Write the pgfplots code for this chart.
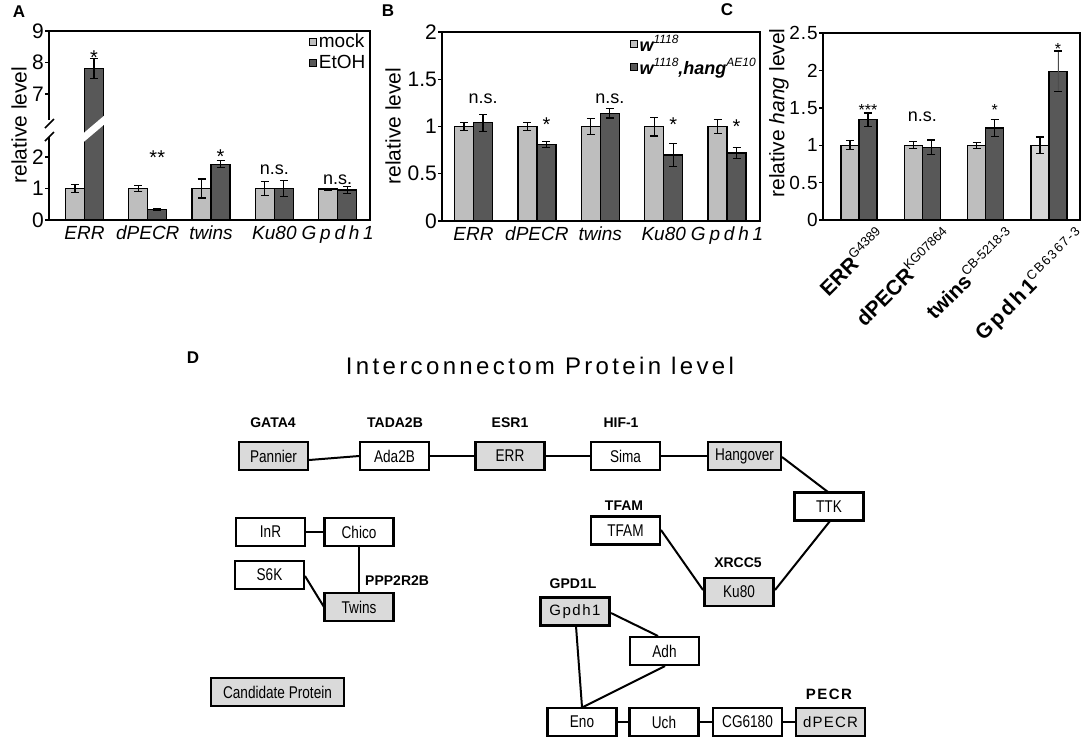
\documentclass[border=0pt]{standalone}
\usepackage{fontspec}
\setmainfont{Liberation Sans}
\newfontfamily\nar{Liberation Sans}[FakeStretch=0.8]
\usepackage{pgfplots}
\usepackage{pgfplotstable}
\pgfplotsset{compat=1.18}

\definecolor{lb}{RGB}{190,190,190}
\definecolor{db}{RGB}{88,88,88}
\definecolor{vlb}{RGB}{212,212,212}
\definecolor{bx}{RGB}{218,218,218}
\newcommand{\fs}[1]{\fontsize{#1}{#1}\selectfont}
\newcommand{\sups}[2][12]{\raisebox{0.42em}{\fs{#1}#2}}

% Panel A
\pgfplotstableread{
x y e
0 1.00 0.13
1 1.00 0.10
2 1.00 0.30
3 1.00 0.23
4 0.98 0.03
}\Amock
\pgfplotstableread{
x y e
0 7.80 0.32
1 0.33 0.02
2 1.77 0.11
3 1.00 0.25
4 0.95 0.10
}\Aetoh
% Panel B
\pgfplotstableread{
x y e
0 1.00 0.04
1 1.00 0.04
2 1.00 0.08
3 1.00 0.10
4 1.00 0.07
}\Bw
\pgfplotstableread{
x y e
0 1.04 0.09
1 0.81 0.03
2 1.14 0.05
3 0.70 0.12
4 0.72 0.06
}\Bhang
% Panel C
\pgfplotstableread{
x y e
0 1.00 0.06
1 1.00 0.05
2 1.00 0.04
}\Clight
\pgfplotstableread{
x y e
3 1.00 0.11
}\ClightG
\pgfplotstableread{
x y e
0 1.34 0.09
1 0.97 0.10
2 1.23 0.11
}\Cdark
\pgfplotstableread{
x y e
3 1.99 0.27
}\CdarkG

\pgfplotsset{
  barpanel/.style={
    scale only axis, ybar, enlargelimits=false,
    axis line style={line width=1.6pt, black},
    xtick style={draw=none},
    ytick pos=left, tick align=outside, major tick length=4pt,
    ytick style={line width=1.4pt, black},
    yticklabel style={font=\fs{21}, inner xsep=1pt},
    xticklabel style={font=\fs{19}\itshape, inner sep=2pt},
    /pgf/number format/assume math mode=true,
    error bars/error bar style={line width=1.1pt, black},
    error bars/error mark options={rotate=90, mark size=4pt, line width=1.1pt, black},
    legend style={draw=none, fill=none, font=\fs{19}, inner sep=0pt, row sep=2pt},
    legend cell align=left,
  },
  bl/.style={fill=lb, draw=black, line width=1.3pt, error bars/y dir=both, error bars/y explicit},
  bd/.style={fill=db, draw=black, line width=1.3pt, error bars/y dir=both, error bars/y explicit},
  sqL/.style={legend image code/.code={\draw[fill=lb, draw=black, line width=0.7pt] (0pt,-3.5pt) rectangle (7pt,3.5pt);}},
  sqD/.style={legend image code/.code={\draw[fill=db, draw=black, line width=0.7pt] (0pt,-3.5pt) rectangle (7pt,3.5pt);}},
}
\tikzset{
  ann/.style={font=\fs{18}, inner sep=0pt},
  stsym/.style={font=\fs{20}, inner sep=0pt},
  stsm/.style={font=\fs{16}, inner sep=0pt},
  bxw/.style={draw=black, line width=2.2pt, fill=white, minimum width=69pt, minimum height=28pt, inner sep=1pt, font=\nar\fs{17}},
  bxg/.style={bxw, fill=bx},
  lab/.style={font=\bfseries\fs{14}, inner sep=0pt},
}

\begin{document}
\begin{tikzpicture}
\useasboundingbox (0,0) rectangle (1084pt,-741pt);

% ---------- Panel A upper (broken axis, 5.4 to 9) ----------
\begin{axis}[barpanel, at={(49pt,-31pt)}, anchor=north west, width=321pt, height=114pt,
  xmin=-0.56, xmax=4.51, ymin=5.381, ymax=9, ytick={7,8,9}, xtick={0,1,2,3,4}, xticklabels={},
  bar width=19pt, axis line style={draw=none},
  legend style={at={(rel axis cs:0.81,0.995)}, anchor=north west}]
\addlegendimage{sqL}
\addlegendimage{sqD}
\addplot[bd, bar shift=9.5pt, restrict y to domain=5:10] table[x=x,y=y,y error=e]{\Aetoh};
\legend{mock,EtOH}
\node[stsym] at (axis cs:0,8.17) [xshift=9.5pt] {*};
\end{axis}

% ---------- Panel A lower (0 to 3.4) ----------
\begin{axis}[barpanel, at={(49pt,-220pt)}, anchor=south west, width=321pt, height=108pt,
  xmin=-0.56, xmax=4.51, ymin=0, ymax=3.4286, ytick={0,1,2},
  xtick={0,1,2,3,4},
  xticklabels={ERR,dPECR,twins,Ku80,{\addfontfeatures{LetterSpace=20}Gpdh1}},
  bar width=19pt, axis line style={draw=none}]
\addplot[bl, bar shift=-9.5pt] table[x=x,y=y,y error=e]{\Amock};
\addplot[bd, bar shift=9.5pt] table[x=x,y=y,y error=e]{\Aetoh};
\node[stsym] at (axis cs:1,1.97) [xshift=9.5pt] {**};
\node[stsym] at (axis cs:2,2.0) [xshift=9.5pt] {*};
\node[ann] at (axis cs:3,1.59) {n.s.};
\node[ann] at (axis cs:4,1.27) {n.s.};
\end{axis}

% ---------- Panel B ----------
\begin{axis}[barpanel, at={(442pt,-221pt)}, anchor=south west, width=318pt, height=189pt,
  xmin=-0.497, xmax=4.519, ymin=0, ymax=2, ytick={0,0.5,1,1.5,2},
  xtick={0,1,2,3,4},
  xticklabels={ERR,dPECR,twins,Ku80,{\addfontfeatures{LetterSpace=20}Gpdh1}},
  bar width=19pt,
  legend style={at={(rel axis cs:0.59,0.995)}, anchor=north west, font=\fs{18}\bfseries\itshape}]
\addlegendimage{sqL}
\addlegendimage{sqD}
\addplot[bl, bar shift=-9.5pt] table[x=x,y=y,y error=e]{\Bw};
\addplot[bd, bar shift=9.5pt] table[x=x,y=y,y error=e]{\Bhang};
\legend{w\sups{\mdseries 1118},w\sups{\mdseries 1118}{,}hang\sups{\mdseries AE10}}
\node[ann] at (axis cs:0,1.29) [xshift=9.5pt] {n.s.};
\node[ann] at (axis cs:2,1.29) [xshift=9.5pt] {n.s.};
\node[stsym] at (axis cs:1,1.016) [xshift=9.5pt] {*};
\node[stsym] at (axis cs:3,1.016) [xshift=9.5pt] {*};
\node[stsym] at (axis cs:4,0.995) [xshift=9.5pt] {*};
\end{axis}

% ---------- Panel C ----------
\begin{axis}[barpanel, at={(823pt,-220pt)}, anchor=south west, width=257pt, height=187pt,
  xmin=-0.568, xmax=3.49, ymin=0, ymax=2.5, ytick={0,0.5,1,1.5,2,2.5},
  yticklabels={0,0\kern1pt.\kern1pt5,1,1\kern1pt.\kern1pt5,2,2\kern1pt.\kern1pt5},
  yticklabel style={font=\fs{19}},
  xtick={0.25,1.3,2.3,3.4},
  xticklabels={ERR\sups[13]{\mdseries G4389},dPECR\sups[13]{\mdseries KG07864},twins\sups[13]{\mdseries CB-5218-3},{\addfontfeatures{LetterSpace=12}Gpdh1\sups[13]{\mdseries CB6367-3}}},
  xticklabel style={rotate=45, anchor=north east, inner sep=1pt, font=\fs{21}\bfseries\upshape},
  bar width=18pt]
\addplot[bl, bar shift=-9pt] table[x=x,y=y,y error=e]{\Clight};
\addplot[bl, fill=vlb, bar shift=-9pt] table[x=x,y=y,y error=e]{\ClightG};
\addplot[bd, bar shift=9pt] table[x=x,y=y,y error=e]{\Cdark};
\addplot[bd, bar shift=9pt, error bars/error bar style={line width=0.7pt, black!70}] table[x=x,y=y,y error=e]{\CdarkG};
\node[stsm] at (axis cs:0,1.47) [xshift=9pt] {***};
\node[ann] at (axis cs:1,1.38) {n.s.};
\node[stsm] at (axis cs:2,1.47) [xshift=9pt] {*};
\node[stsm] at (axis cs:3,2.29) [xshift=9pt] {*};
\end{axis}

% ---------- Overlay: frames, labels, network diagram ----------
\begin{axis}[at={(0pt,0pt)}, anchor=north west, scale only axis, width=1084pt, height=741pt,
  xmin=0, xmax=1084, ymin=0, ymax=741, y dir=reverse, hide axis, clip=false]
% panel A frame with axis break
\fill[white] (82.5,143) -- (105.5,123.5) -- (105.5,114.5) -- (82.5,134) -- cycle;
\draw[line width=1.6pt] (49,137) -- (49,220) -- (370,220) -- (370,31) -- (49,31) -- (49,120);
\draw[line width=1.6pt] (45,128) -- (54,119);
\draw[line width=1.6pt] (45,141) -- (54,132);
% panel letters and y labels
\node[font=\bfseries\fs{17}] at (19,12) {A};
\node[font=\bfseries\fs{17}] at (388,11) {B};
\node[font=\bfseries\fs{17}] at (727,10) {C};
\node[font=\bfseries\fs{17}] at (193,358) {D};
\node[rotate=90, font=\fs{21}] at (19,125) {relative level};
\node[rotate=90, font=\fs{21}] at (393,126) {relative level};
\node[rotate=90, font=\fs{21}] at (779,113) {relative \textit{hang} level};
% panel D title
\node[font=\fs{24}\addfontfeatures{LetterSpace=14}] at (540,366) {Interconnectom Protein level};
% edges
\begin{scope}[line width=2pt]
\draw (309,460) -- (359,456);
\draw (430,456) -- (474,456);
\draw (546,456) -- (590,456);
\draw (661,456) -- (707,456);
\draw (782,457) -- (828,492);
\draw (830,521) -- (775,590);
\draw (661,530) -- (703,590);
\draw (306,532) -- (324,532);
\draw (359,547) -- (359,592);
\draw (305,576) -- (324,607);
\draw (576,626) -- (582,707);
\draw (611,613) -- (658,636);
\draw (665,666) -- (583,707);
\draw (617,722) -- (629,722);
\draw (699,722) -- (712,722);
\draw (783,722) -- (796,722);
\end{scope}
% boxes
\node[bxg] at (273.5,456) {Pannier};
\node[bxw] at (394.5,456) {Ada2B};
\node[bxg] at (510,456) {ERR};
\node[bxw] at (625.5,456) {Sima};
\node[bxg, minimum width=73pt] at (744.5,456) {Hangover};
\node[bxw] at (829,506.5) {TTK};
\node[bxw] at (625.5,530.5) {TFAM};
\node[bxg] at (739,592) {Ku80};
\node[bxw] at (270.5,532) {InR};
\node[bxw] at (359,532) {Chico};
\node[bxw] at (269.5,575) {S6K};
\node[bxg] at (359,607) {Twins};
\node[bxg, font=\fs{15}] at (575,611.5) {\addfontfeatures{LetterSpace=10}Gpdh1};
\node[bxw] at (664.5,651) {Adh};
\node[bxw] at (582,722) {Eno};
\node[bxw] at (664,722) {Uch};
\node[bxw] at (747.5,722) {CG6180};
\node[bxg, font=\fs{15}] at (830.5,722) {\addfontfeatures{LetterSpace=8}dPECR};
\node[bxg, minimum width=133pt] at (277.5,692) {Candidate Protein};
% labels above boxes
\node[lab] at (273,423) {GATA4};
\node[lab] at (395,423) {TADA2B};
\node[lab] at (510,423) {ESR1};
\node[lab] at (621,423) {HIF-1};
\node[lab] at (624,506) {TFAM};
\node[lab] at (738,563) {XRCC5};
\node[lab, anchor=west] at (365,581) {PPP2R2B};
\node[lab] at (573,584) {GPD1L};
\node[lab, font=\bfseries\fs{15}\addfontfeatures{LetterSpace=10}] at (829,694) {PECR};
\end{axis}
\end{tikzpicture}
\end{document}
